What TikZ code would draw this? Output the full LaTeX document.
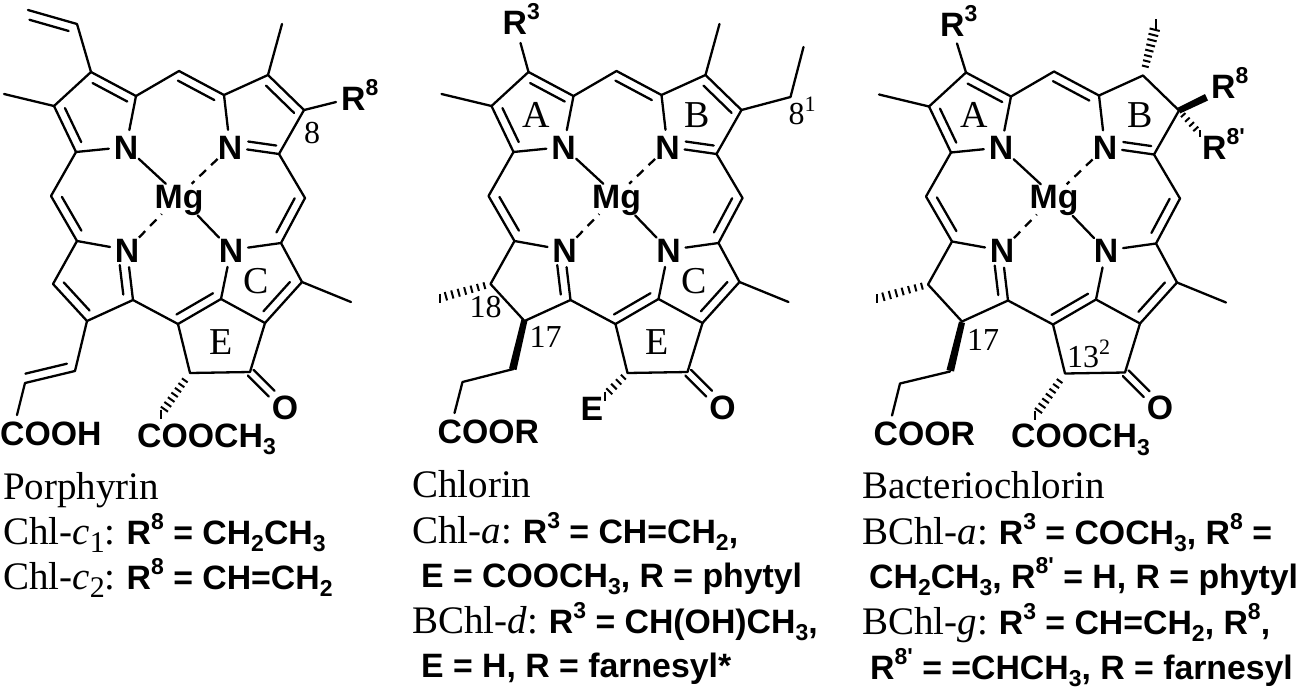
\documentclass[tikz,border=0pt]{standalone}
\usepackage{fontspec}
\setmainfont{Liberation Serif}
\newfontfamily\sbf{Liberation Sans}
\usetikzlibrary{calc}
\newcommand\B[1]{{\sbf\bfseries\fontsize{33.8}{33.8}\selectfont #1}}
\newcommand\up[1]{\raisebox{15pt}{\fontsize{23}{23}\selectfont #1}}
\newcommand\dn[1]{\raisebox{-7.5pt}{\fontsize{23}{23}\selectfont #1}}
\newcommand\rdn[1]{\raisebox{-8pt}{\fontsize{30}{30}\selectfont #1}}
\newcommand\rup[1]{\raisebox{13pt}{\fontsize{22}{22}\selectfont #1}}
% inner line of a double bond: [offset]{a}{b}{from}{to}
\newcommand\inl[5][9]{\draw[bond] ($(#2)!#4!(#3)!#1pt!90:(#3)$) -- ($(#2)!#5!(#3)!#1pt!90:(#3)$);}
% hashed wedge: {a}{b}{stripes}{first fraction}{half width near}{half width far}
\newcommand\hashw[6]{\foreach \i in {1,...,#3}{%
  \pgfmathsetmacro\t{#4+(1-#4)*(\i-1)/(#3-1)}%
  \pgfmathsetmacro\w{#5+(#6-#5)*(\i-1)/(#3-1)}%
  \draw[stripe] ($(#1)!\t!(#2)!\w pt!90:(#2)$) -- ($(#1)!\t!(#2)!-\w pt!90:(#2)$);}}
\newcommand\core{%
  \foreach \n/\x/\y in {c3/91/72,c2/54/106,c1/76/152,c4/136/96,m1/179/71,d1/224/95,d2/268/75,d3/304/110,d4/279/154,m3/305/198,e1/281/243,e2/302/282,e3/265/323,e4/221/299,f1/178/324,f2/190/373,f3/250/372,g1/133/300,g2/87/321,g3/53/284,g4/77/241,m2/51/196,me1/4/94,me2/351/302}
    {\coordinate (\n) at (\x,\y);}
  \node[atom] (NA) at (126,147) {N};
  \node[atom] (NB) at (230,147) {N};
  \node[atom] (NC) at (231,250) {N};
  \node[atom] (ND) at (127,250) {N};
  \node[metal] (Mg) at (179,196) {Mg};
  \node[atom] (O) at (285,407) {O};
  \draw[bond] (me1) -- (c2) -- (c3) -- (c4) -- (m1) -- (d1) -- (NB);
  \draw[bond] (c2) -- (c1) -- (NA) -- (c4);
  \draw[bond] (c1) -- (m2) -- (g4) -- (ND) -- (g1) -- (f1) -- (e4) -- (NC) -- (e1) -- (m3) -- (d4) -- (NB);
  \draw[bond] (d1) -- (d2) -- (d3) -- (d4);
  \draw[bond] (g4) -- (g3) -- (g2) -- (g1);
  \draw[bond] (e1) -- (e2) -- (e3) -- (e4);
  \draw[bond] (me2) -- (e2);
  \draw[bond] (f1) -- (f2) -- (f3) -- (e3);
  \draw[bond] (NA) -- (Mg);
  \draw[bond,shorten <=10pt] (Mg) -- (NC);
  \draw[dbond] (NB) -- (Mg);
  \draw[dbond,shorten >=8pt] (ND) -- (Mg);
  \inl[-9]{c3}{c4}{.13}{.9}
  \inl{c2}{c1}{.13}{.87}
  \inl[-9]{m1}{d1}{.07}{.88}
  \inl{m2}{g4}{.12}{.87}
  \inl[-9]{m3}{e1}{.1}{.86}
  \inl[8]{NB}{d4}{.35}{.92}
  \inl{g1}{ND}{.13}{.72}
  \inl[-9]{e2}{e3}{.146}{.86}
  \inl[-9]{e4}{f1}{.08}{.93}
  \inl[4]{f3}{O}{.02}{.62}
  \inl[-4]{f3}{O}{.02}{.62}
}
\tikzset{
  bond/.style={line width=2.3pt,line cap=round,line join=round,black},
  dbond/.style={line width=2.3pt,dash pattern=on 9pt off 7pt,black},
  stripe/.style={line width=2pt,black},
  atom/.style={circle,inner sep=0pt,font=\sbf\bfseries\fontsize{33.8}{33.8}\selectfont,text height=24pt,text depth=0pt},
  metal/.style={rectangle,inner sep=0pt,font=\sbf\bfseries\fontsize{33.8}{33.8}\selectfont,text height=24pt,text depth=0pt},
  big/.style={inner sep=0pt,anchor=base west,font=\fontsize{38}{38}\selectfont},
  num/.style={inner sep=0pt,anchor=base west,font=\fontsize{32}{32}\selectfont},
  sb/.style={inner sep=0pt,anchor=base west,font=\sbf\bfseries\fontsize{33.8}{33.8}\selectfont},
  txt/.style={inner sep=0pt,anchor=base west,font=\fontsize{39}{39}\selectfont},
}
\begin{document}
\begin{tikzpicture}[x=1pt,y=-1pt]
\useasboundingbox (0,0) rectangle (1299,691);
\fill[white] (0,0) rectangle (1299,691);

% --- Porphyrin
\begin{scope}[name prefix=p-]
  \core
  \coordinate (v1) at (77,24); \coordinate (v2) at (28,10);
  \draw[bond] (c3) -- (v1) -- (v2);
  \inl{v1}{v2}{.12}{.92}
  \coordinate (me3) at (282,24);
  \draw[bond] (d2) -- (me3);
  \inl[-9]{d2}{d3}{.12}{.9}
  \inl{g3}{g2}{.12}{.88}
  \node[sb] (R8) at (341,110) {R\up{8}};
  \coordinate (r8a) at (336,102);
  \draw[bond] (d3) -- (r8a);
  \node[num] (n8) at (304,143) {8};
  \node[big] (lC) at (243,293) {C};
  \node[big] (lE) at (209,354) {E};
  \coordinate (a1) at (75,371); \coordinate (a2) at (25,383); \coordinate (a3) at (17,415);
  \draw[bond] (g2) -- (a1) -- (a2) -- (a3);
  \inl[-9]{a1}{a2}{.12}{.95}
  \node[sb] (cooh) at (0,445) {COOH};
  \node[sb] (coome) at (137,447) {COOCH\dn{3}};
  \coordinate (hs) at (161,414);
  \hashw{f2}{hs}{8}{.18}{3.5}{4.5}
\end{scope}

% --- Chlorin
\begin{scope}[shift={(437.5,0)},name prefix=q-]
  \core
  \coordinate (r3) at (83,43);
  \draw[bond] (c3) -- (r3);
  \node[sb] (R3) at (65,34) {R\up{3}};
  \coordinate (me3) at (282,24);
  \draw[bond] (d2) -- (me3);
  \inl[-9]{d2}{d3}{.12}{.9}
  \coordinate (et1) at (353,97); \coordinate (et2) at (366,47);
  \draw[bond] (d3) -- (et1) -- (et2);
  \node[num] (n81) at (351,124) {8\rup{1}};
  \node[big] (lA) at (85,127) {A};
  \node[big] (lB) at (247,127) {B};
  \node[big] (lC) at (244,293) {C};
  \node[big] (lE) at (208,354) {E};
  \coordinate (hm) at (2,298);
  \hashw{g3}{hm}{8}{.12}{3.5}{4.5}
  \node[num] (n18) at (32,317) {18};
  \node[num] (n17) at (92,347) {17};
  \coordinate (w1) at (76,369); \coordinate (w2) at (25,382); \coordinate (w3) at (17,413);
  \fill[black] (84,319) -- (90,320.5) -- (79,370) -- (71.5,368.5) -- cycle;
  \draw[bond] (w1) -- (w2) -- (w3);
  \node[sb] (coor) at (0,443) {COOR};
  \coordinate (he) at (167,396);
  \hashw{f2}{he}{5}{.18}{3.5}{4.5}
  \node[sb] (E) at (143,420) {E};
\end{scope}

% --- Bacteriochlorin
\begin{scope}[shift={(875,0.5)},name prefix=r-]
  \core
  \coordinate (r3) at (82,43);
  \draw[bond] (c3) -- (r3);
  \node[sb] (R3) at (65,35.5) {R\up{3}};
  \node[big] (lA) at (85,127) {A};
  \node[big] (lB) at (252,127) {B};
  \coordinate (hm) at (2,298);
  \hashw{g3}{hm}{8}{.12}{3.5}{4.5}
  \node[num] (n17) at (92,350) {17};
  \fill[black] (84,321) -- (90,322.5) -- (79,371) -- (71.5,369.5) -- cycle;
  \coordinate (w1) at (75,371); \coordinate (w2) at (25,383); \coordinate (w3) at (17,415);
  \draw[bond] (w1) -- (w2) -- (w3);
  \node[sb] (coor) at (-1.5,445) {COOR};
  \node[sb] (coome) at (136,447) {COOCH\dn{3}};
  \coordinate (hs) at (160,415);
  \hashw{f2}{hs}{8}{.18}{3.5}{4.5}
  \node[num] (n132) at (192,367) {13\rup{2}};
  \coordinate (hb) at (281,24);
  \hashw{d2}{hb}{9}{.18}{3.5}{5.5}
  \fill[black] (d3) ++(-1,-3) -- (330,93.5) -- (333,100) -- (305,113) -- cycle;
  \node[sb] (R8) at (336,98) {R\up{8}};
  \coordinate (h8) at (325,133);
  \hashw{d3}{h8}{5}{.2}{3}{3.5}
  \node[sb] (R8p) at (327,159) {R\up{8'}};
\end{scope}

% --- captions
\node[txt] (t1) at (3,499) {Porphyrin};
\node[txt] (t2) at (3,544) {Chl-\textit{c}\rdn{1}: \kern-2pt\B{R\up{8} = CH\dn{2}CH\dn{3}}};
\node[txt] (t3) at (3,589) {Chl-\textit{c}\rdn{2}: \kern-2pt\B{R\up{8} = CH=CH\dn{2}}};
\node[txt] (t4) at (412,497) {Chlorin};
\node[txt] (t5) at (412,543) {Chl-\textit{a}: \kern-2pt\B{R\up{3} = CH=CH\dn{2},}};
\node[sb] (t6) at (421,587) {E = COOCH\dn{3}, R = phytyl};
\node[txt] (t7) at (412,633) {BChl-\textit{d}: \kern-2pt\B{R\up{3} = CH(OH)CH\dn{3},}};
\node[sb] (t8) at (421,677) {E = H, R = farnesyl*};
\node[txt] (t9) at (862,498) {Bacteriochlorin};
\node[txt] (t10) at (862,544) {BChl-\textit{a}: \kern-2pt\B{R\up{3} = COCH\dn{3}, R\up{8} =}};
\node[sb] (t11) at (869,588) {CH\dn{2}CH\dn{3}, R\up{8'} = H, R = phytyl};
\node[txt] (t12) at (862,634) {BChl-\textit{g}: \kern-2pt\B{R\up{3} = CH=CH\dn{2}, R\up{8},}};
\node[sb] (t13) at (870,679) {R\up{8'} = =CHCH\dn{3}, R = farnesyl};
\end{tikzpicture}
\end{document}
